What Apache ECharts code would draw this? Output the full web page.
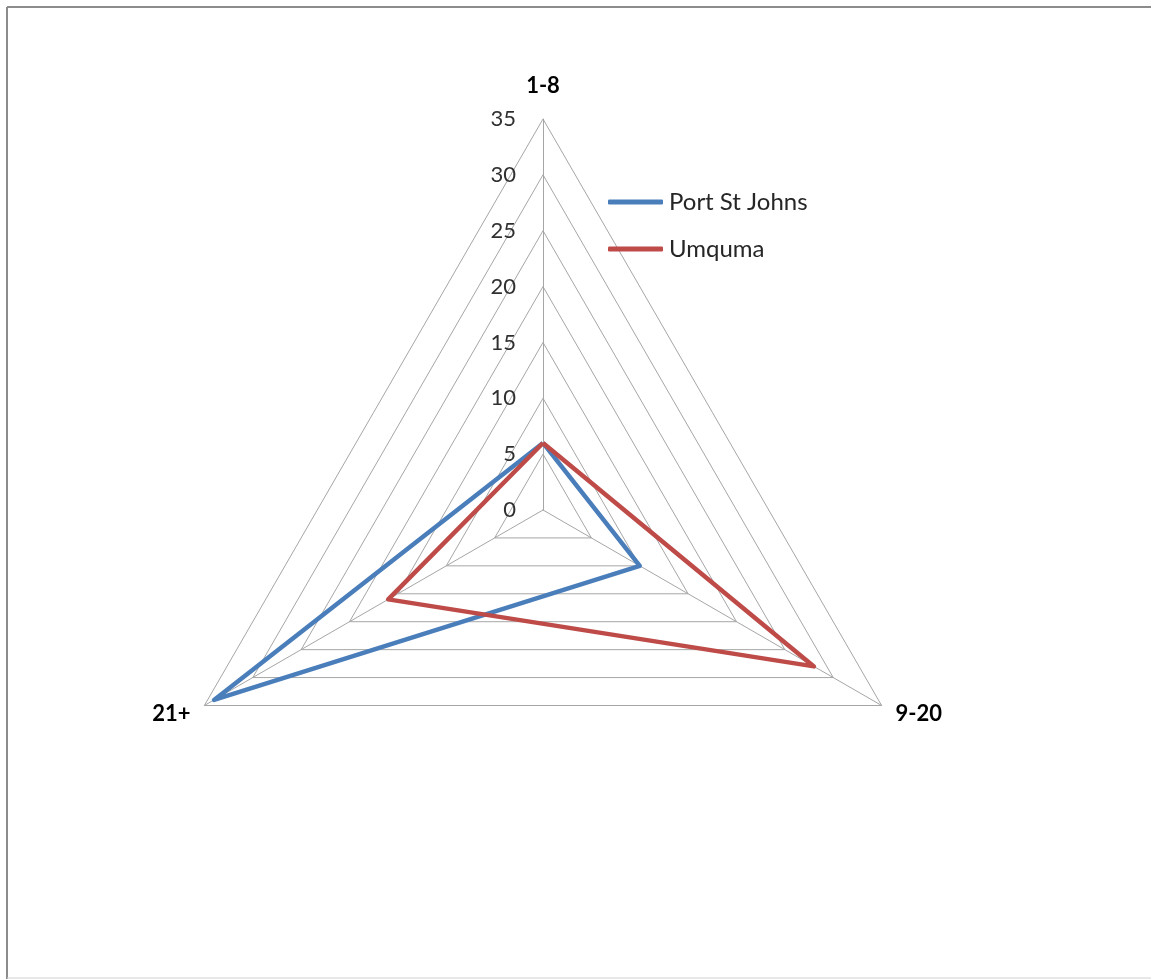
<!DOCTYPE html>
<html>
<head>
<meta charset="utf-8">
<script src="https://cdn.jsdelivr.net/npm/echarts@6/dist/echarts.min.js"></script>
<style>
html,body{margin:0;padding:0;background:#fff;}
#chart{width:1151px;height:979px;}
</style>
</head>
<body>
<div id="chart"></div>
<script>
// Categories in the order shown (clockwise from top)
const categories = ['1-8', '9-20', '21+'];
const seriesNames = ['Port St Johns', 'Umquma'];
const portStJohns = [6, 10, 34];
const umquma = [6, 28, 16];
const axisMax = 35;
const axisInterval = 5;
const tickLabels = ['0', '5', '10', '15', '20', '25', '30', '35'];

const colors = ['#4A7EBB', '#BE4B48'];
const FONT = 'Lato';

// ECharts places indicators counter-clockwise; reorder so that it looks clockwise
const order = [0, 2, 1];
const nameGaps = [22, 16, 16];
const indicator = order.map(function (i, k) {
  const ind = { name: categories[i], min: 0, max: axisMax, nameGap: nameGaps[i] };
  if (k === 0) {
    ind.axisLabel = {
      show: true,
      margin: 27,
      color: '#303030',
      fontSize: 22,
      fontFamily: FONT,
      formatter: function (v) { return tickLabels[Math.round(v / axisInterval)]; }
    };
  }
  return ind;
});
function reorder(arr) { return order.map(function (i) { return arr[i]; }); }

const chart = echarts.init(document.getElementById('chart'), null, { renderer: 'canvas' });
chart.setOption({
  animation: false,
  backgroundColor: '#fff',
  color: colors,
  graphic: [
    { type: 'line', shape: { x1: 7, y1: 7, x2: 1151, y2: 7 }, style: { stroke: '#8c8c8c', lineWidth: 2 } },
    { type: 'line', shape: { x1: 7, y1: 7, x2: 7, y2: 979 }, style: { stroke: '#8c8c8c', lineWidth: 2 } },
    { type: 'line', shape: { x1: 7, y1: 978, x2: 1151, y2: 978 }, style: { stroke: '#d0d0d0', lineWidth: 1 } }
  ],
  legend: {
    orient: 'vertical',
    left: 603,
    top: 183,
    itemWidth: 55,
    itemHeight: 5,
    itemGap: 19,
    icon: 'roundRect',
    textStyle: { fontSize: 24, fontFamily: FONT, color: '#262626', lineHeight: 28, padding: [0, 0, 0, 1] },
    data: seriesNames
  },
  radar: {
    center: [543, 510],
    radius: 391,
    startAngle: 90,
    shape: 'polygon',
    splitNumber: axisMax / axisInterval,
    indicator: indicator,
    axisName: { color: '#000', fontWeight: 'bold', fontSize: 22, fontFamily: FONT },
    axisLine: { lineStyle: { color: '#a6a6a6', width: 1 } },
    splitLine: { lineStyle: { color: '#a6a6a6', width: 1 } },
    splitArea: { show: false },
    axisTick: { show: false },
    axisLabel: { show: false }
  },
  series: [{
    type: 'radar',
    symbol: 'none',
    data: [
      { name: seriesNames[0], value: reorder(portStJohns), lineStyle: { color: colors[0], width: 4.5 }, itemStyle: { color: colors[0] } },
      { name: seriesNames[1], value: reorder(umquma), lineStyle: { color: colors[1], width: 4.5 }, itemStyle: { color: colors[1] } }
    ]
  }]
});
</script>
</body>
</html>
